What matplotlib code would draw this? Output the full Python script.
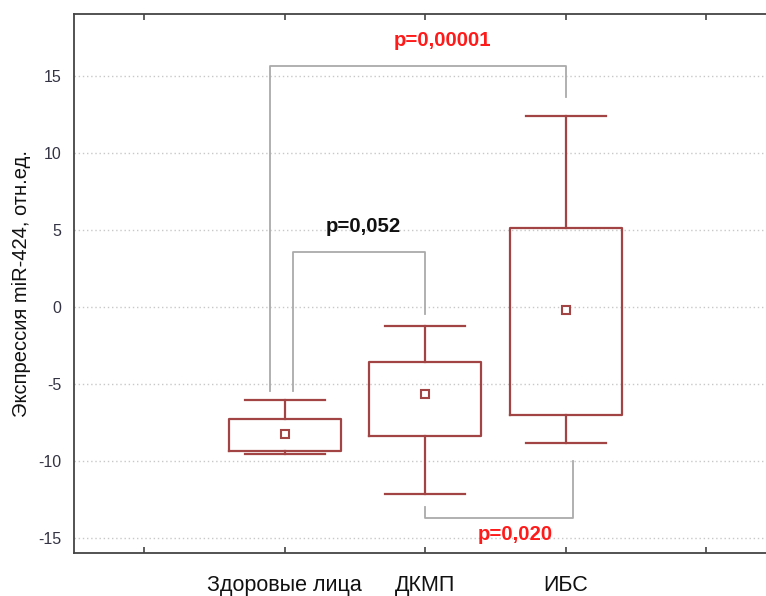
import matplotlib
matplotlib.use("Agg")
import matplotlib.pyplot as plt

plt.rcParams['font.family'] = ['Liberation Sans', 'DejaVu Sans']

groups = ['Здоровые лица', 'ДКМП', 'ИБС']
positions = [1, 2, 3]
whisker_hi = [-6.07, -1.23, 12.38]
box_hi = [-7.28, -3.61, 5.10]
means = [-8.25, -5.66, -0.19]
box_lo = [-9.35, -8.41, -7.04]
whisker_lo = [-9.55, -12.20, -8.83]

# comparison brackets: (x_left, y_left_end, x_right, y_right_end, y_bar)
brackets = [
    (0.895, -5.5, 3.0, 13.6, 15.6),
    (1.06, -5.5, 2.0, -0.5, 3.52),
    (2.0, -13.0, 3.05, -10.05, -13.74),
]
p_labels = ['p=0,00001', 'p=0,052', 'p=0,020']
p_pos = [(2.12, 17.25), (1.56, 5.2), (2.64, -14.8)]
p_colors = ['#ff1a1a', '#111111', '#ff1a1a']

box_color = '#a34444'

fig = plt.figure(figsize=(7.66, 5.96), dpi=100)
ax = fig.add_axes([74 / 766, 43 / 596, 702.5 / 766, 539 / 596])

stats = []
for i in range(len(groups)):
    stats.append(dict(whislo=whisker_lo[i], q1=box_lo[i], med=means[i],
                      q3=box_hi[i], whishi=whisker_hi[i], mean=means[i]))

ax.bxp(stats, positions=positions, widths=0.8, capwidths=0.57,
       showmeans=True, showfliers=False, patch_artist=False,
       boxprops=dict(color=box_color, linewidth=1.6),
       whiskerprops=dict(color=box_color, linewidth=1.6),
       capprops=dict(color=box_color, linewidth=1.6),
       medianprops=dict(linewidth=0),
       meanprops=dict(marker='s', markersize=6, markerfacecolor='white',
                      markeredgecolor=box_color, markeredgewidth=1.5))

for (x0, y0, x1, y1, yb) in brackets:
    ax.plot([x0, x0, x1, x1], [y0, yb, yb, y1], color='#aaaaaa', lw=1.3,
            zorder=1)

for txt, (tx, ty), c in zip(p_labels, p_pos, p_colors):
    ax.text(tx, ty, txt, color=c, fontsize=14.7, fontweight='bold',
            ha='center', va='center')

ax.set_xlim(-0.5, 4.5)
ax.set_ylim(-16, 19)
ax.set_xticks([0, 1, 2, 3, 4])
ax.set_xticklabels(['', *groups, ''], fontsize=15.5, color='#111111')
ax.set_yticks([-15, -10, -5, 0, 5, 10, 15])
ax.set_yticklabels(['-15', '-10', '-5', '0', '5', '10', '15'])

ax.tick_params(axis='x', direction='in', length=4, width=1.2, top=True,
               pad=16, color='#444444')
ax.tick_params(axis='y', direction='in', length=0, pad=9, labelsize=11.5,
               labelcolor='#333344')
ax.grid(axis='y', linestyle=(0, (1, 2)), color='#c8c8c8', linewidth=1)
ax.set_axisbelow(True)

for s in ax.spines.values():
    s.set_color('#444444')
    s.set_linewidth(1.3)

ax.set_ylabel('Экспрессия miR-424, отн.ед.', fontsize=14.5, color='#111111',
              labelpad=5)

fig.savefig('out.png', dpi=100)
